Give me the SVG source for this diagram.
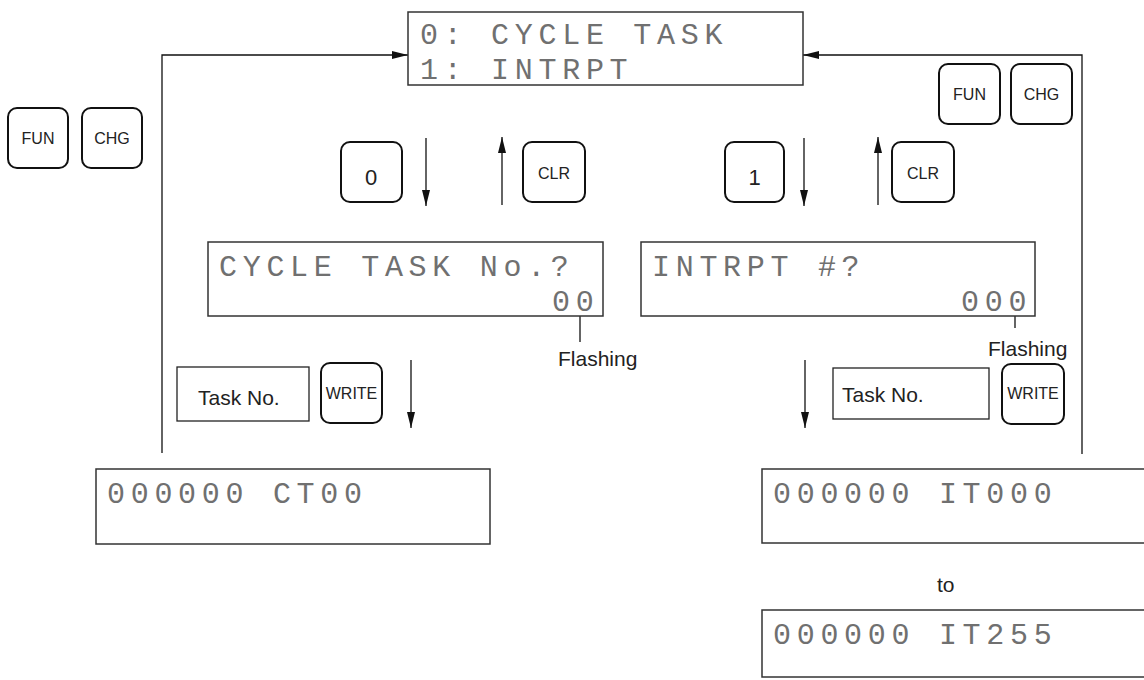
<svg xmlns="http://www.w3.org/2000/svg" width="1144" height="680" viewBox="0 0 1144 680">
<defs>
<marker id="ah" viewBox="0 0 16 8" refX="16" refY="4" markerWidth="16" markerHeight="8" markerUnits="userSpaceOnUse" orient="auto">
<path d="M0,0 L16,4 L0,8 z" fill="#111"/>
</marker>
</defs>
<style>
.lcd{fill:#fff;stroke:#333;stroke-width:1.5}
.lt{font-family:"Liberation Mono","DejaVu Sans Mono",monospace;font-size:30px;letter-spacing:5.7px;fill:#707070}
.key{fill:#fff;stroke:#111;stroke-width:2}
.kt{font-family:"Liberation Sans",Arial,sans-serif;font-size:16px;fill:#222;text-anchor:middle}
.kn{font-family:"Liberation Sans",Arial,sans-serif;font-size:22px;fill:#222;text-anchor:middle}
.lbl{font-family:"Liberation Sans",Arial,sans-serif;font-size:21px;fill:#222}
.cn{fill:none;stroke:#111;stroke-width:1.3}
.box{fill:#fff;stroke:#222;stroke-width:1.3}
</style>
<g id="connectors">
<polyline class="cn" points="162,453 162,55 408,55" marker-end="url(#ah)"/>
<polyline class="cn" points="1082,454 1082,55 803,55" marker-end="url(#ah)"/>
<line class="cn" x1="426" y1="138" x2="426" y2="206" marker-end="url(#ah)"/>
<line class="cn" x1="502" y1="205" x2="502" y2="137" marker-end="url(#ah)"/>
<line class="cn" x1="804" y1="138" x2="804" y2="206" marker-end="url(#ah)"/>
<line class="cn" x1="878" y1="205" x2="878" y2="137" marker-end="url(#ah)"/>
<line class="cn" x1="411" y1="360" x2="411" y2="428" marker-end="url(#ah)"/>
<line class="cn" x1="805" y1="360" x2="805" y2="428" marker-end="url(#ah)"/>
<line class="cn" x1="580" y1="316" x2="580" y2="342"/>
<line class="cn" x1="1015" y1="316" x2="1015" y2="328"/>
</g>
<g id="menu">
<rect class="lcd" x="408" y="12" width="395" height="73"/>
<text class="lt" x="420" y="44">0: CYCLE TASK</text>
<text class="lt" x="420" y="79">1: INTRPT</text>
</g>
<g id="key-fun-left"><rect class="key" x="8" y="108" width="60" height="60" rx="9"/><text class="kt" x="38" y="144">FUN</text></g>
<g id="key-chg-left"><rect class="key" x="82" y="108" width="60" height="60" rx="9"/><text class="kt" x="112" y="144">CHG</text></g>
<g id="key-fun-right"><rect class="key" x="939" y="64" width="61" height="60" rx="9"/><text class="kt" x="969.5" y="100">FUN</text></g>
<g id="key-chg-right"><rect class="key" x="1011" y="64" width="61" height="60" rx="9"/><text class="kt" x="1041.5" y="100">CHG</text></g>
<g id="key-0"><rect class="key" x="341" y="142" width="61" height="60" rx="9"/><text class="kn" x="371" y="185">0</text></g>
<g id="key-clr-left"><rect class="key" x="523" y="142" width="62" height="60" rx="9"/><text class="kt" x="554" y="179">CLR</text></g>
<g id="key-1"><rect class="key" x="725" y="142" width="59" height="60" rx="9"/><text class="kn" x="754.5" y="185">1</text></g>
<g id="key-clr-right"><rect class="key" x="892" y="142" width="62" height="60" rx="9"/><text class="kt" x="923" y="179">CLR</text></g>
<g id="cycle-prompt">
<rect class="lcd" x="208" y="242" width="395" height="74"/>
<text class="lt" x="219" y="276">CYCLE TASK No.?</text>
<text class="lt" x="552" y="311">00</text>
</g>
<g id="intrpt-prompt">
<rect class="lcd" x="641" y="242" width="394" height="74"/>
<text class="lt" x="652" y="276">INTRPT #?</text>
<text class="lt" x="961" y="311">000</text>
</g>
<g id="flash-left"><text class="lbl" x="558" y="366">Flashing</text></g>
<g id="flash-right"><text class="lbl" x="988" y="356">Flashing</text></g>
<g id="taskno-left"><rect class="box" x="177" y="367" width="132" height="54"/><text class="lbl" x="198" y="405">Task No.</text></g>
<g id="write-left"><rect class="key" x="321" y="363" width="61" height="60" rx="9"/><text class="kt" x="351.5" y="399">WRITE</text></g>
<g id="taskno-right"><rect class="box" x="833" y="368" width="156" height="51"/><text class="lbl" x="842" y="402">Task No.</text></g>
<g id="write-right"><rect class="key" x="1002" y="364" width="62" height="60" rx="9"/><text class="kt" x="1033" y="399">WRITE</text></g>
<g id="ct00">
<rect class="lcd" x="96" y="469" width="394" height="75"/>
<text class="lt" x="107" y="503">000000 CT00</text>
</g>
<g id="it000">
<rect class="lcd" x="762" y="469" width="394" height="74"/>
<text class="lt" x="773" y="503">000000 IT000</text>
</g>
<text class="lbl" x="937" y="592">to</text>
<g id="it255">
<rect class="lcd" x="762" y="610" width="394" height="67"/>
<text class="lt" x="773" y="644">000000 IT255</text>
</g>
</svg>
